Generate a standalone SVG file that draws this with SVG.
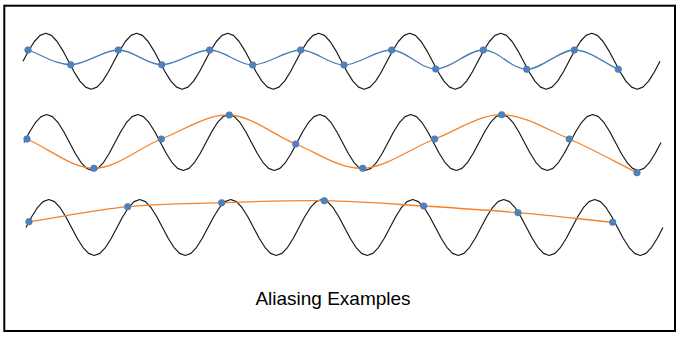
<svg xmlns="http://www.w3.org/2000/svg" width="681" height="337" viewBox="0 0 681 337">
<style>
.frame{fill:#fff;stroke:#000;stroke-width:2}
.sig{fill:none;stroke:#1a1a1a;stroke-width:1.2;stroke-linejoin:round}
.blue{fill:none;stroke:#4a7db5;stroke-width:1.3}
.orange{fill:none;stroke:#f5822a;stroke-width:1.3}
.dot{fill:#4f81bd;stroke:#4575ad;stroke-width:0.6}
.title{font-family:"Liberation Sans",Arial,sans-serif;font-size:19px;fill:#000;text-anchor:middle}
</style>
<defs>
<path id="wave" d="M0,0 l5.6875,-10.715 5.6875,-9.084 5.6875,-6.07 5.6875,-2.131 5.6875,2.131 5.6875,6.07 5.6875,9.084 5.6875,10.715 5.6875,10.715 5.6875,9.084 5.6875,6.07 5.6875,2.131 5.6875,-2.131 5.6875,-6.07 5.6875,-9.084 5.6875,-10.715 5.6875,-10.715 5.6875,-9.084 5.6875,-6.07 5.6875,-2.131 5.6875,2.131 5.6875,6.07 5.6875,9.084 5.6875,10.715 5.6875,10.715 5.6875,9.084 5.6875,6.07 5.6875,2.131 5.6875,-2.131 5.6875,-6.07 5.6875,-9.084 5.6875,-10.715 5.6875,-10.715 5.6875,-9.084 5.6875,-6.07 5.6875,-2.131 5.6875,2.131 5.6875,6.07 5.6875,9.084 5.6875,10.715 5.6875,10.715 5.6875,9.084 5.6875,6.07 5.6875,2.131 5.6875,-2.131 5.6875,-6.07 5.6875,-9.084 5.6875,-10.715 5.6875,-10.715 5.6875,-9.084 5.6875,-6.07 5.6875,-2.131 5.6875,2.131 5.6875,6.07 5.6875,9.084 5.6875,10.715 5.6875,10.715 5.6875,9.084 5.6875,6.07 5.6875,2.131 5.6875,-2.131 5.6875,-6.07 5.6875,-9.084 5.6875,-10.715 5.6875,-10.715 5.6875,-9.084 5.6875,-6.07 5.6875,-2.131 5.6875,2.131 5.6875,6.07 5.6875,9.084 5.6875,10.715 5.6875,10.715 5.6875,9.084 5.6875,6.07 5.6875,2.131 5.6875,-2.131 5.6875,-6.07 5.6875,-9.084 5.6875,-10.715 5.6875,-10.715 5.6875,-9.084 5.6875,-6.07 5.6875,-2.131 5.6875,2.131 5.6875,6.07 5.6875,9.084 5.6875,10.715 5.6875,10.715 5.6875,9.084 5.6875,6.07 5.6875,2.131 5.6875,-2.131 5.6875,-6.07 5.6875,-9.084 5.6875,-10.715 5.6875,-10.715 5.6875,-9.084 5.6875,-6.07 5.6875,-2.131 5.6875,2.131 5.6875,6.07 5.6875,9.084 5.6875,10.715 5.6875,10.715 5.6875,9.084 5.6875,6.07 5.6875,2.131 5.6875,-2.131 5.6875,-6.07 5.6875,-9.084 5.6875,-10.715"/>
</defs>
<rect class="frame" x="4.3" y="5.7" width="670.7" height="325.3"/>
<g id="row1">
<use class="sig" href="#wave" x="23" y="61.3"/>
<path class="blue" d="M28,50 C42.23,54.9 55.65,64.7 70.7,64.7 C85.75,64.7 103.13,50 118.3,50 C133.47,50 146.47,64.7 161.7,64.7 C176.93,64.7 194.53,49.95 209.7,50 C224.87,50.05 237.53,65 252.7,65 C267.87,65 285.48,50 300.7,50 C315.92,50 328.83,65 344,65 C359.17,65 376.42,49.33 391.7,50 C406.98,50.67 420.43,69 435.7,69 C450.97,69 468.13,49.95 483.3,50 C498.47,50.05 511.53,69.3 526.7,69.3 C541.87,69.3 559.03,50 574.3,50 C589.57,50 603.63,62.87 618.3,69.3"/>
<g>
<circle class="dot" cx="28" cy="50" r="3.3"/>
<circle class="dot" cx="70.7" cy="64.7" r="3.3"/>
<circle class="dot" cx="118.3" cy="50" r="3.3"/>
<circle class="dot" cx="161.7" cy="64.7" r="3.3"/>
<circle class="dot" cx="209.7" cy="50" r="3.3"/>
<circle class="dot" cx="252.7" cy="65" r="3.3"/>
<circle class="dot" cx="300.7" cy="50" r="3.3"/>
<circle class="dot" cx="344" cy="65" r="3.3"/>
<circle class="dot" cx="391.7" cy="50" r="3.3"/>
<circle class="dot" cx="435.7" cy="69" r="3.3"/>
<circle class="dot" cx="483.3" cy="50" r="3.3"/>
<circle class="dot" cx="526.7" cy="69.3" r="3.3"/>
<circle class="dot" cx="574.3" cy="50" r="3.3"/>
<circle class="dot" cx="618.3" cy="69.3" r="3.3"/>
</g>
</g>
<g id="row2">
<use class="sig" href="#wave" x="24" y="142.5"/>
<path class="orange" d="M27,139 C49.33,148.77 71.62,168.3 94,168.3 C116.38,168.3 138.75,147.88 161.3,139 C183.85,130.12 206.9,114.17 229.3,115 C251.7,115.83 273.47,135.12 295.7,144 C317.93,152.88 339.53,169.13 362.7,168.3 C385.87,167.47 411.53,147.93 434.7,139 C457.87,130.07 479.27,114.7 501.7,114.7 C524.13,114.7 546.75,129.33 569.3,139 C591.85,148.67 614.43,161.47 637,172.7"/>
<g>
<circle class="dot" cx="27" cy="139" r="3.3"/>
<circle class="dot" cx="94" cy="168.3" r="3.3"/>
<circle class="dot" cx="161.3" cy="139" r="3.3"/>
<circle class="dot" cx="229.3" cy="115" r="3.3"/>
<circle class="dot" cx="295.7" cy="144" r="3.3"/>
<circle class="dot" cx="362.7" cy="168.3" r="3.3"/>
<circle class="dot" cx="434.7" cy="139" r="3.3"/>
<circle class="dot" cx="501.7" cy="114.7" r="3.3"/>
<circle class="dot" cx="569.3" cy="139" r="3.3"/>
<circle class="dot" cx="637" cy="172.7" r="3.3"/>
</g>
</g>
<g id="row3">
<use class="sig" href="#wave" x="26" y="227.5"/>
<path class="orange" d="M29,221.7 C61.9,216.7 95.58,209.87 127.7,206.7 C159.82,203.53 188.93,203.7 221.7,202.7 C254.47,201.7 290.63,200.15 324.3,200.7 C357.97,201.25 391.42,204 423.7,206 C455.98,208 486.5,209.98 518,212.7 C549.5,215.42 581.13,219.1 612.7,222.3"/>
<g>
<circle class="dot" cx="29" cy="221.7" r="3.3"/>
<circle class="dot" cx="127.7" cy="206.7" r="3.3"/>
<circle class="dot" cx="221.7" cy="202.7" r="3.3"/>
<circle class="dot" cx="324.3" cy="200.7" r="3.3"/>
<circle class="dot" cx="423.7" cy="206" r="3.3"/>
<circle class="dot" cx="518" cy="212.7" r="3.3"/>
<circle class="dot" cx="612.7" cy="222.3" r="3.3"/>
</g>
</g>
<text id="caption" class="title" x="333" y="305">Aliasing Examples</text>
</svg>
